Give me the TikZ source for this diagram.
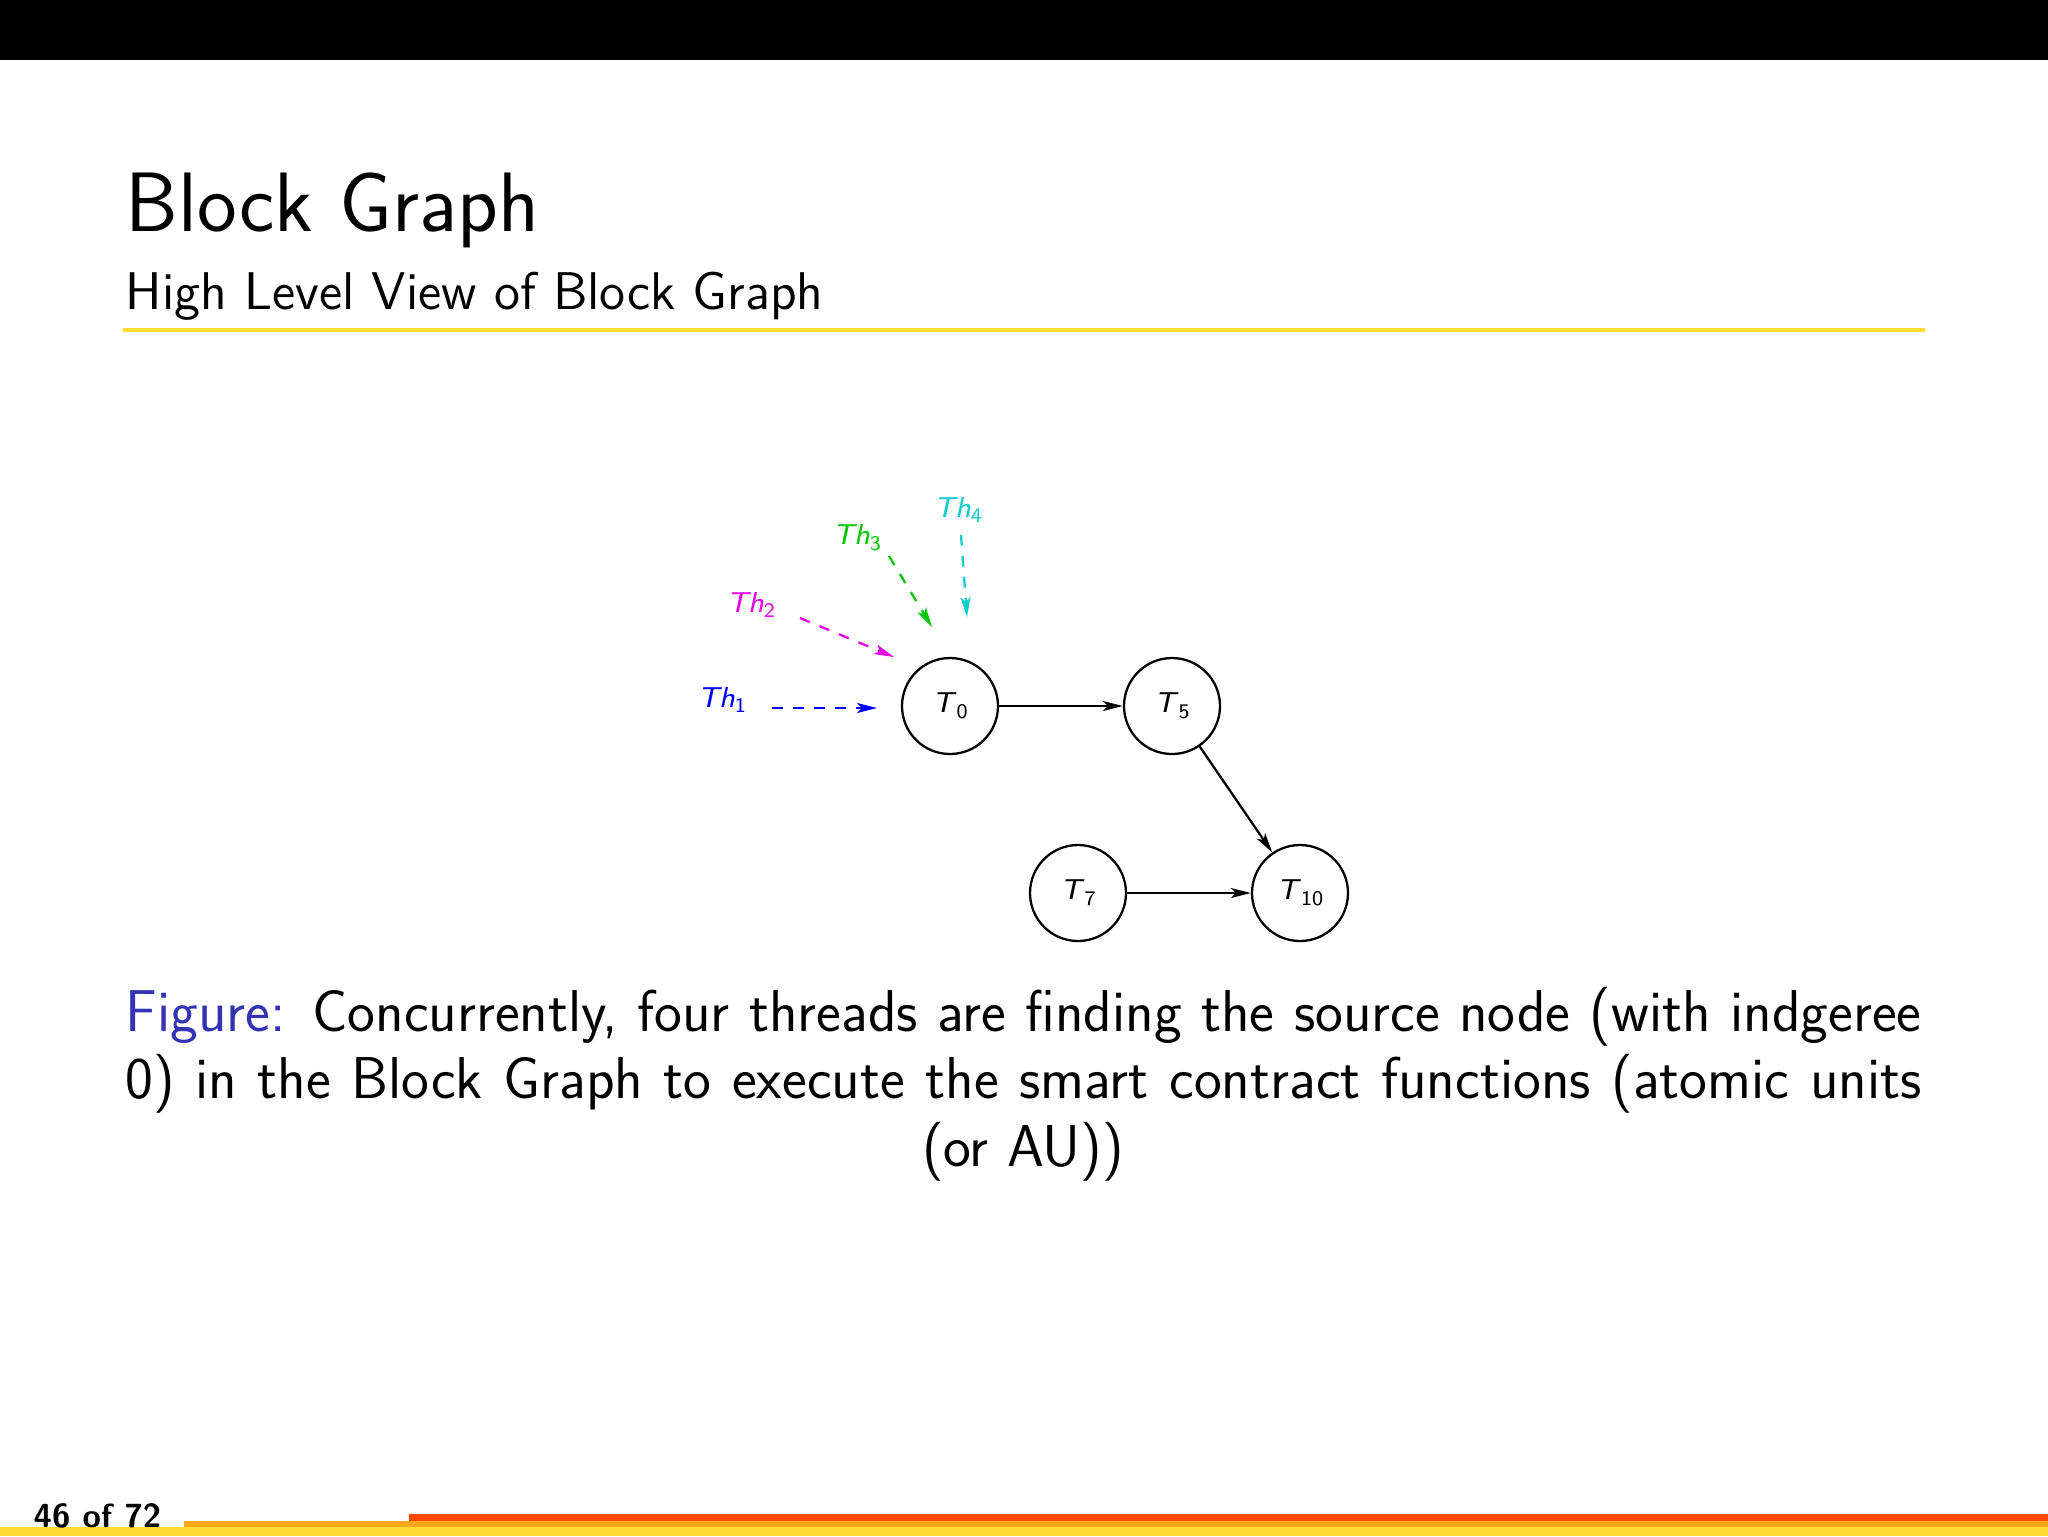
\documentclass[tikz,border=0pt]{standalone}
\usepackage{amsmath}
\usetikzlibrary{arrows.meta}
\definecolor{thblue}{RGB}{0,0,255}
\definecolor{thmagenta}{RGB}{230,0,230}
\definecolor{thgreen}{RGB}{0,200,0}
\definecolor{thcyan}{RGB}{20,205,205}
\def\firstcolor{thblue}
\def\secondcolor{thmagenta}
\def\thirdcolor{thgreen}
\def\fourthcolor{thcyan}
\definecolor{figblue}{RGB}{51,51,179}
\definecolor{baryellow}{RGB}{255,221,51}
\definecolor{barorange}{RGB}{255,166,26}
\definecolor{barred}{RGB}{255,72,0}
\newcommand{\tsub}[2]{\textit{#1}\raisebox{-0.45ex}{\fontsize{5.9}{6}\selectfont #2}}
\newcommand{\capfont}{\sffamily\fontsize{16.8}{20}\selectfont}

\begin{document}
\begin{tikzpicture}[x=0.1mm, y=-0.1mm, >={Stealth[length=2mm, width=1mm, inset=0.5mm]}, node distance=22.2mm, txnode/.style={circle, draw, line width=0.65pt, minimum size=9.6mm, inner sep=0pt, font=\sffamily\fontsize{8.2}{9}\selectfont}, thlabel/.style={inner sep=1pt, font=\sffamily\fontsize{8.2}{9}\selectfont}, thread/.style={dashed, ->, line width=0.65pt}, edge/.style={->, line width=0.65pt}]

  \useasboundingbox (0,0) rectangle (2048,1536);
  \fill[black] (0,0) rectangle (2048,60);
  \node[anchor=base west, inner sep=0pt, font=\sffamily\fontsize{24}{28}\selectfont] (title) at (125,231) {Block Graph};
  \node[anchor=base west, inner sep=0pt, font=\sffamily\fontsize{15.1}{18}\selectfont] (subtitle) at (125,309) {High Level View of Block Graph};
  \fill[baryellow] (123,328) rectangle (1925,332);

  \node[txnode] (t0) at (950,706) {\tsub{T}{0}};
  \node[txnode, right of=t0] (t5) {\tsub{T}{5}};
  \node[txnode, below of=t5, node distance=18.7mm, xshift=12.8mm] (t10) {\tsub{T}{10}};
  \node[txnode, left of=t10] (t7) {\tsub{T}{7}};

  \draw[edge] (t0) -- (t5);
  \draw[edge] (t5) -- (t10);
  \draw[edge] (t7) -- (t10);

  \node[thlabel, text=\firstcolor] (th1) at (722,700) {\tsub{Th}{1}};
  \node[thlabel, text=\secondcolor] (th2) at (751,605) {\tsub{Th}{2}};
  \node[thlabel, text=\thirdcolor] (th3) at (857,538) {\tsub{Th}{3}};
  \node[thlabel, text=\fourthcolor] (th4) at (958,510) {\tsub{Th}{4}};

  \coordinate (from1) at (772,708);
  \coordinate (to1) at (877,708);
  \coordinate (from2) at (800,618);
  \coordinate (to2) at (894,657);
  \coordinate (from3) at (889,556);
  \coordinate (to3) at (932,627);
  \coordinate (from4) at (961,535);
  \coordinate (to4) at (967,617);
  \draw[thread, \firstcolor] (from1) -- (to1);
  \draw[thread, \secondcolor] (from2) -- (to2);
  \draw[thread, \thirdcolor] (from3) -- (to3);
  \draw[thread, \fourthcolor] (from4) -- (to4);

  \node[anchor=base west, inner sep=0pt, font=\capfont] (cap1) at (125,1031) {\makebox[179.6mm][s]{\textcolor{figblue}{Figure:} Concurrently, four threads are finding the source node (with indgeree}};
  \node[anchor=base west, inner sep=0pt, font=\capfont] (cap2) at (125,1098) {\makebox[179.6mm][s]{0) in the Block Graph to execute the smart contract functions (atomic units}};
  \node[anchor=base, inner sep=0pt, font=\capfont] (cap3) at (1023,1166) {(or AU))};

  \fill[baryellow] (0,1527) rectangle (2048,1536);
  \fill[barorange] (184,1521) rectangle (2048,1527);
  \fill[barred] (409,1514) rectangle (2048,1521);
  \node[anchor=base west, inner sep=0pt, font=\sffamily\bfseries\fontsize{9.5}{11}\selectfont] (pageno) at (33,1527) {46 of 72};
\end{tikzpicture}
\end{document}
